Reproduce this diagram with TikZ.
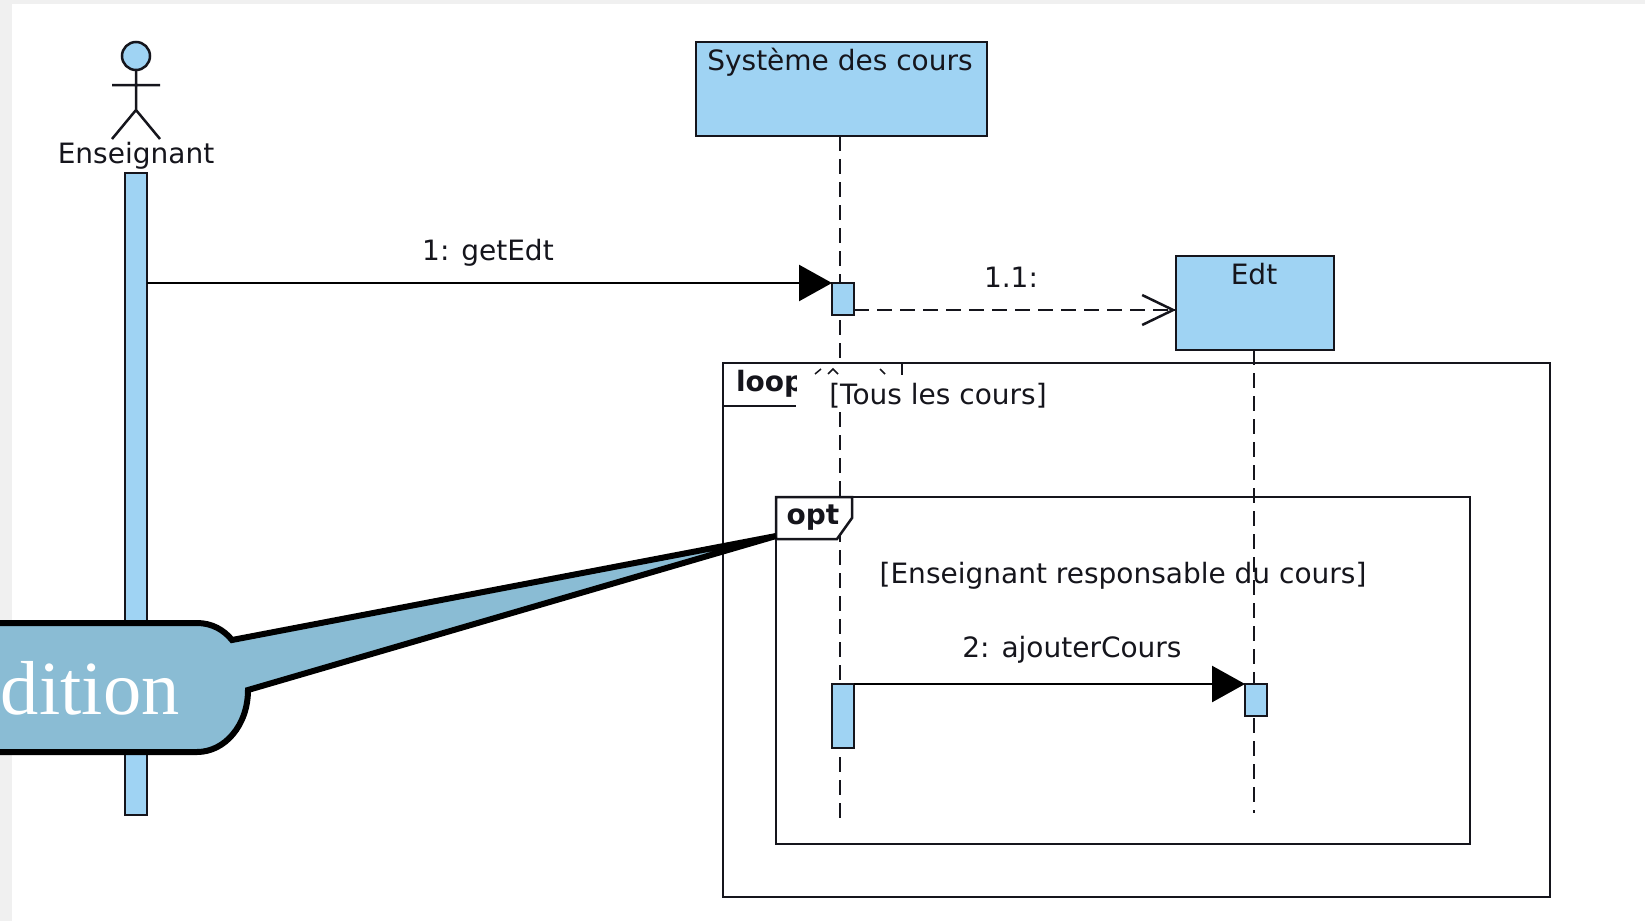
\documentclass[tikz,border=0pt]{standalone}
\usepackage{fontspec}
\setmainfont{DejaVu Sans}
\newfontfamily\callfont{Liberation Serif}
\usetikzlibrary{arrows.meta}
\definecolor{umlblue}{HTML}{9FD3F3}
\definecolor{callblue}{HTML}{8ABCD4}
\definecolor{ink}{HTML}{15151C}
\definecolor{margin}{HTML}{F0F0F0}
\tikzset{
  every node/.style={inner sep=0pt,outer sep=0pt,text=ink},
  umlbox/.style={draw=ink,fill=umlblue,line width=2.5pt},
  lbl/.style={font=\fontsize{28}{32}\selectfont},
  boldlbl/.style={font=\fontsize{28}{32}\selectfont\bfseries},
  lifeline/.style={draw=ink,line width=2.5pt,dash pattern=on 15pt off 8pt},
  frameline/.style={draw=ink,line width=2.5pt},
  msg/.style={draw=black,line width=2.5pt,-{Triangle[length=33pt,width=36pt]}},
  reply/.style={draw=ink,line width=2.5pt,dash pattern=on 15pt off 8pt},
  patch/.style={fill=white,draw=none}
}
\begin{document}
\begin{tikzpicture}[x=1pt,y=-1pt]
\useasboundingbox (0,0) rectangle (1645,921);
\fill[margin] (0,0) rectangle (1645,921);
\fill[white] (12,4) rectangle (1645,921);
% actor
\node[umlbox,circle,minimum size=28pt] (head) at (136,56) {};
\coordinate (hip) at (136,110);
\coordinate (armL) at (112,85);
\coordinate (armR) at (160,85);
\coordinate (footL) at (112,139);
\coordinate (footR) at (160,139);
\draw[frameline] (head.south) -- (hip) -- (footL) (hip) -- (footR) (armL) -- (armR);
\node[lbl] (actorlabel) at (136,156) {Enseignant};
\node[umlbox,minimum width=22pt,minimum height=642pt] (actbar) at (136,494) {};
% objects
\node[umlbox,minimum width=291pt,minimum height=94pt] (sys) at (841.5,89) {};
\node[lbl] (syslabel) at (840,62) {Système des cours};
\node[umlbox,minimum width=158pt,minimum height=94pt] (edt) at (1255,303) {};
\node[lbl] (edtlabel) at (1254,274) {Edt};
\coordinate (sysend) at (840,818);
\coordinate (edtend) at (1254,813);
\coordinate (systop) at (840,136);
\coordinate (edttop) at (1254,350);
\draw[lifeline] (systop) -- (sysend);
\draw[lifeline] (edttop) -- (edtend);
% loop frame
\coordinate (loopTL) at (723,363);
\coordinate (loopBR) at (1550,897);
\coordinate (loopTabB) at (796,406);
\coordinate (loopTabL) at (723,406);
\draw[frameline] (loopTL) rectangle (loopBR);
\draw[frameline] (loopTabL) -- (loopTabB);
\node[boldlbl,anchor=west] (looplabel) at (736,384) {loop};
\fill[patch] (797,365) rectangle (1052,411);
\draw[frameline] (902,363) -- (902,375);
\draw[frameline,line width=1.5pt] (815,374) -- (821,369) (828,374) -- (833,369) -- (838,374) (880,369) -- (885,374);
\node[lbl] (loopguard) at (938,396) {[Tous les cours]};
% opt frame
\draw[frameline] (776,497) rectangle (1470,844);
\draw[frameline,fill=white] (776,497) -- (852,497) -- (852,518) -- (837,539) -- (776,539) -- cycle;
\node[boldlbl] (optlabel) at (813,518) {opt};
\node[lbl] (optguard) at (1123,576) {[Enseignant responsable du cours]};
% activations
\node[umlbox,minimum width=22pt,minimum height=32pt] (act1) at (843,299) {};
\node[umlbox,minimum width=22pt,minimum height=64pt] (act2) at (843,716) {};
\node[umlbox,minimum width=22pt,minimum height=32pt] (act3) at (1256,700) {};
% messages
\draw[msg] (actbar.east |- act1.north west) -- (act1.north west);
\node[lbl] (m1) at (488,253) {1: getEdt};
\draw[reply] (act1.east |- 0,310) -- (edt.west |- 0,310);
\draw[draw=ink,line width=2.5pt,{Straight Barb[length=31pt,width=30pt]}-] (edt.west |- 0,310) -- ++(-1,0);
\node[lbl] (m11) at (1011,277) {1.1:};
\draw[msg] (act2.north east) -- (act3.north west);
\node[lbl] (m2) at (1072,650) {2: ajouterCours};
% callout
\coordinate (tip) at (776,536);
\draw[line width=6pt,draw=black,fill=callblue,line join=miter,miter limit=2]
  (0,623) -- (197,623) .. controls (212,623) and (224,630) .. (232,640)
  -- (tip) -- (248,690) .. controls (248,725) and (225,752) .. (197,752) -- (0,752);
\node[anchor=base west,text=white,font=\callfont\fontsize{76.5}{80}\selectfont] (calltext) at (1,714) {dition};
\end{tikzpicture}
\end{document}
